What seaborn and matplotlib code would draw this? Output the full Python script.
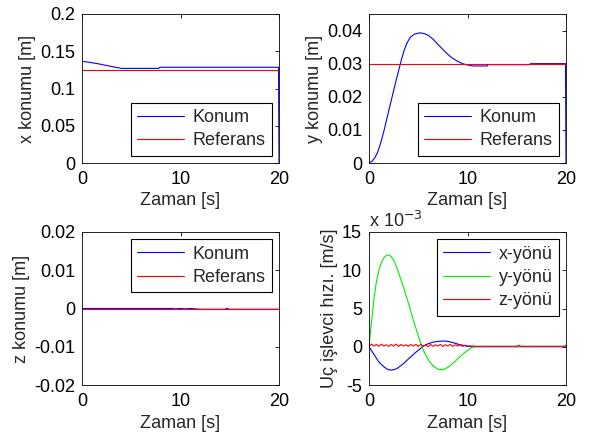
import numpy as np
import pandas as pd
import matplotlib
matplotlib.use("Agg")
import matplotlib.pyplot as plt
import seaborn as sns
from matplotlib.ticker import FuncFormatter

# %% data
# x position [m]
t_x = [0, 0.75, 1.75, 2.75, 3.8, 4.0, 7.8, 7.9, 19.95, 20]
x_konum = [0.1365, 0.1352, 0.1329, 0.1302, 0.1275, 0.1270, 0.1270, 0.1285, 0.1285, 0.0]

# y position [m]
t_y = [0, 0.3, 0.6, 0.9, 1.2, 1.5, 1.8, 2.1, 2.4, 2.7, 3.0, 3.3, 3.6, 3.9, 4.2, 4.6,
       5.15, 5.6, 6.0, 6.5, 7.0, 7.5, 8.0, 8.5, 9.0, 9.5, 10.0, 10.5, 12.0, 12.1,
       16.3, 16.4, 19.95, 20]
y_konum = [0, 0.0005, 0.0016, 0.0034, 0.0062, 0.0095, 0.0132, 0.0170, 0.0206, 0.0243,
           0.0278, 0.0313, 0.0343, 0.0365, 0.0380, 0.0389, 0.0393, 0.0391, 0.0386,
           0.0374, 0.0358, 0.0343, 0.0328, 0.0316, 0.0307, 0.0300, 0.0296, 0.0293,
           0.0293, 0.0297, 0.0297, 0.0300, 0.0300, 0.0]

# z position [m]
t_z = [0, 9, 9.5, 10, 10.5, 11, 11.5, 12, 14.5, 14.7, 15, 20]
z_konum = [0, 0, -0.0001, 0, -0.0001, 0, -0.0001, -0.0002, -0.0002, 0, -0.0002, -0.0002]

t_ref = [0, 20]
x_ref = [0.125, 0.125]
y_ref = [0.03, 0.03]
z_ref = [0.0, 0.0]

# end effector velocity [x 1e-3 m/s]
t_v = [0, 0.15, 0.3, 0.5, 0.75, 1.0, 1.25, 1.5, 1.75, 2.0, 2.25, 2.5, 2.75, 3.0, 3.5,
       4.0, 4.5, 5.0, 5.5, 6.0, 6.5, 7.0, 7.5, 8.0, 8.5, 9.0, 9.5, 10.0, 10.5, 11.0, 20]
vx = [0, -0.3, -0.6, -1.0, -1.5, -2.0, -2.3, -2.6, -2.85, -3.0, -3.05, -3.0, -2.9, -2.7,
      -2.2, -1.6, -1.0, -0.45, 0.05, 0.4, 0.6, 0.7, 0.75, 0.7, 0.55, 0.35, 0.2, 0.05,
      0.0, 0.0, 0.0]
vy = [0, 2.0, 3.8, 6.2, 8.5, 10.0, 11.0, 11.6, 11.9, 12.0, 11.8, 11.3, 10.6, 9.7, 7.8,
      5.7, 3.5, 1.4, -0.4, -1.7, -2.5, -2.95, -3.0, -2.7, -2.2, -1.6, -1.0, -0.5,
      -0.05, 0.05, 0.05]

t_vz = [0, 0.25, 0.5, 0.75, 1.0, 1.25, 1.5, 1.75, 2.0, 2.25, 2.5, 2.75, 3.0, 3.25,
        3.5, 3.75, 4.0, 4.25, 4.5, 4.75, 5.0, 5.25, 5.5, 5.75, 6.0, 6.25, 6.5, 6.75,
        7.0, 7.25, 7.5, 7.75, 8.0, 8.25, 8.5, 8.75, 9.0, 9.25, 9.5, 9.75, 10.0, 10.5,
        11.0, 15.0, 15.2, 15.4, 19.8, 20]
vz = [0, 0.35, 0.1, 0.3, 0.05, 0.35, 0.1, 0.25, 0.05, 0.3, 0.1, 0.35, 0.05, 0.3,
      0.1, 0.25, 0.05, 0.3, 0.1, 0.3, 0.05, 0.3, 0.1, 0.25, 0.0, 0.3, 0.05, 0.25,
      0.1, 0.3, 0.05, 0.25, 0.1, 0.3, 0.05, 0.25, 0.1, 0.25, 0.05, 0.2, 0.1, 0.1,
      0.05, 0.05, 0.2, 0.05, 0.05, 0.2]

# %% style
sns.set_style("white")
plt.rcParams['font.family'] = ['Liberation Sans', 'DejaVu Sans']
FS = 13
plt.rcParams['font.size'] = FS

BLUE, RED, GREEN = '#0000ff', '#ff0000', '#00ee00'
LW = 0.8

fig = plt.figure(figsize=(5.91, 4.33), dpi=100)
W, H = 591, 433


def add_ax(left, top, right, bottom):
    return fig.add_axes([left / W, 1 - bottom / H, (right - left) / W, (bottom - top) / H])


ax1 = add_ax(82, 14, 279, 163)
ax2 = add_ax(369, 14, 566, 163)
ax3 = add_ax(82, 232, 279, 385)
ax4 = add_ax(369, 232, 566, 385)


def line(ax, t, v, color, label):
    sns.lineplot(x=t, y=v, ax=ax, color=color, lw=LW, label=label,
                 estimator=None, sort=False)


line(ax1, t_x, x_konum, BLUE, 'Konum')
line(ax1, t_ref, x_ref, RED, 'Referans')
line(ax2, t_y, y_konum, BLUE, 'Konum')
line(ax2, t_ref, y_ref, RED, 'Referans')
line(ax3, t_z, z_konum, BLUE, 'Konum')
line(ax3, t_ref, z_ref, RED, 'Referans')
line(ax4, t_v, vx, BLUE, 'x-yönü')
line(ax4, t_v, vy, GREEN, 'y-yönü')
line(ax4, t_vz, vz, RED, 'z-yönü')

gfmt = FuncFormatter(lambda v, p: ('%g' % round(v, 6)))

settings = [
    (ax1, (0, 0.2), np.arange(0, 0.21, 0.05), 'x konumu [m]', 'lower right'),
    (ax2, (0, 0.045), np.arange(0, 0.041, 0.01), 'y konumu [m]', 'lower right'),
    (ax3, (-0.02, 0.02), np.arange(-0.02, 0.021, 0.01), 'z konumu [m]', 'upper right'),
    (ax4, (-5, 15), np.arange(-5, 16, 5), 'Uç işlevci hızı. [m/s]', 'upper right'),
]
for ax, ylim, yt, ylab, loc in settings:
    ax.set_xlim(0, 20)
    ax.set_ylim(*ylim)
    ax.set_xticks([0, 10, 20])
    ax.set_yticks(yt)
    ax.yaxis.set_major_formatter(gfmt)
    ax.set_xlabel('Zaman [s]', labelpad=3)
    ax.set_ylabel(ylab, labelpad=3)
    ax.tick_params(direction='in', length=3, width=0.6, top=True, right=True,
                   labelsize=FS, colors='black')
    ax.tick_params(axis='x', pad=6)
    ax.tick_params(axis='y', pad=5)
    for s in ax.spines.values():
        s.set_visible(True)
        s.set_color('black')
        s.set_linewidth(0.6)
    leg = ax.legend(loc=loc, fontsize=FS, frameon=True, fancybox=False,
                    edgecolor='black', framealpha=1, borderaxespad=0.4,
                    handlelength=2.6, handletextpad=0.45, labelspacing=0.35,
                    borderpad=0.35)
    leg.get_frame().set_linewidth(0.8)

ax4.text(0.0, 1.005, r'x 10$^{-3}$', transform=ax4.transAxes, ha='left', va='bottom',
         fontsize=FS)

fig.savefig('out.png', dpi=100, facecolor='white')
